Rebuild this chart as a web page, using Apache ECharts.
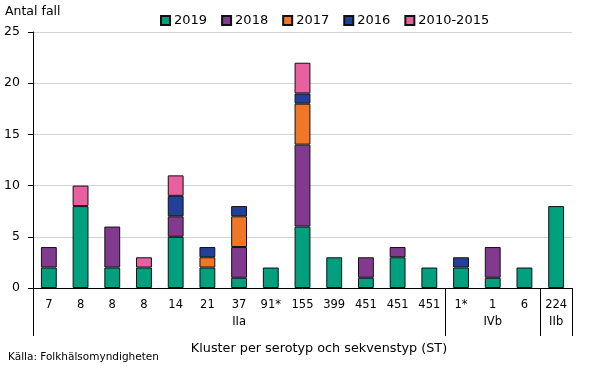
<!DOCTYPE html>
<html>
<head>
<meta charset="utf-8">
<script src="https://cdn.jsdelivr.net/npm/echarts@6/dist/echarts.min.js"></script>
<style>
html,body{margin:0;padding:0;background:#fff;}
#chart{width:590px;height:369px;}
</style>
</head>
<body>
<div id="chart"></div>
<script>
const categories = ['7','8','8','8','14','21','37','91*','155','399','451','451','451','1*','1','6','224'];
const groups = ['IIa','IIa','IIa','IIa','IIa','IIa','IIa','IIa','IIa','IIa','IIa','IIa','IIa','IVb','IVb','IVb','IIb'];
const seriesNames = ['2019','2018','2017','2016','2010-2015'];
const v2019 = [2,8,2,2,5,2,1,2,6,3,1,3,2,2,1,2,8];
const v2018 = [2,0,4,0,2,0,3,0,8,0,2,1,0,0,3,0,0];
const v2017 = [0,0,0,0,0,1,3,0,4,0,0,0,0,0,0,0,0];
const v2016 = [0,0,0,0,2,1,1,0,1,0,0,0,0,1,0,0,0];
const v2010_2015 = [0,2,0,1,2,0,0,0,3,0,0,0,0,0,0,0,0];
const yTicks = [0,5,10,15,20,25];

const colors = ['#00a07f','#823a8e','#f07628','#234096','#e8609f'];
const values = [v2019, v2018, v2017, v2016, v2010_2015];
const FONT = 'DejaVu Sans';

// group boundaries and label positions
const boundaryIdx = [0];
for (let i = 1; i < groups.length; i++) if (groups[i] !== groups[i-1]) boundaryIdx.push(i);
boundaryIdx.push(groups.length - 1);
const labelIdx = {};
{
  let s = 0;
  for (let i = 1; i <= groups.length; i++) {
    if (i === groups.length || groups[i] !== groups[s]) {
      labelIdx[Math.floor((s + i - 1) / 2)] = groups[s];
      s = i;
    }
  }
}

const chart = echarts.init(document.getElementById('chart'), null, {renderer: 'canvas'});
chart.setOption({
  animation: false,
  color: colors,
  textStyle: {fontFamily: FONT, color: '#000'},
  grid: {left: 33, right: 18, top: 32, bottom: 81, containLabel: false},
  legend: {
    data: seriesNames,
    left: 155, top: 9,
    itemWidth: 9, itemHeight: 9, itemGap: 14,
    icon: 'rect',
    textStyle: {fontFamily: FONT, fontSize: 13, color: '#000', padding: [0,0,0,-1]}
  },
  xAxis: [{
    type: 'category',
    data: categories,
    position: 'bottom',
    axisLine: {show: true, lineStyle: {color: '#000', width: 1}},
    axisTick: {show: false},
    axisLabel: {interval: 0, margin: 11, fontFamily: FONT, fontSize: 11.5, color: '#000'}
  }, {
    type: 'category',
    data: groups,
    position: 'bottom',
    axisLine: {show: false},
    axisTick: {
      show: true, length: 48, inside: false,
      interval: function (i) { return boundaryIdx.indexOf(i) >= 0; },
      lineStyle: {color: '#000', width: 1}
    },
    axisLabel: {
      interval: 0, margin: 28, fontFamily: FONT, fontSize: 11.5, color: '#000',
      formatter: function (v, i) { return labelIdx[i] || ''; }
    }
  }],
  yAxis: {
    type: 'value', min: yTicks[0], max: yTicks[yTicks.length-1], interval: 5,
    axisLine: {show: true, lineStyle: {color: '#000', width: 1}},
    axisTick: {show: true, length: 5, lineStyle: {color: '#000'}},
    axisLabel: {margin: 13, fontFamily: FONT, fontSize: 12.5, color: '#000'},
    splitLine: {show: true, lineStyle: {color: '#d4d4d4', width: 1}}
  },
  graphic: [
    {type: 'text', left: 5, top: 5, style: {text: 'Antal fall', font: '12.5px "DejaVu Sans"', fill: '#000'}},
    {type: 'text', x: 319, y: 349, style: {text: 'Kluster per serotyp och sekvenstyp (ST)', font: '12.8px "DejaVu Sans"', fill: '#000', align: 'center', verticalAlign: 'middle'}},
    {type: 'text', x: 8, y: 357, style: {text: 'Källa: Folkhälsomyndigheten', font: '10.5px "DejaVu Sans"', fill: '#000', align: 'left', verticalAlign: 'middle'}}
  ],
  series: seriesNames.map(function (name, k) {
    return {
      name: name, type: 'bar', stack: 'total', xAxisIndex: 0,
      barWidth: '50%',
      itemStyle: {color: colors[k], borderColor: '#111', borderWidth: 1},
      data: values[k].map(function (v) { return v === 0 ? '-' : v; })
    };
  })
});
</script>
</body>
</html>
